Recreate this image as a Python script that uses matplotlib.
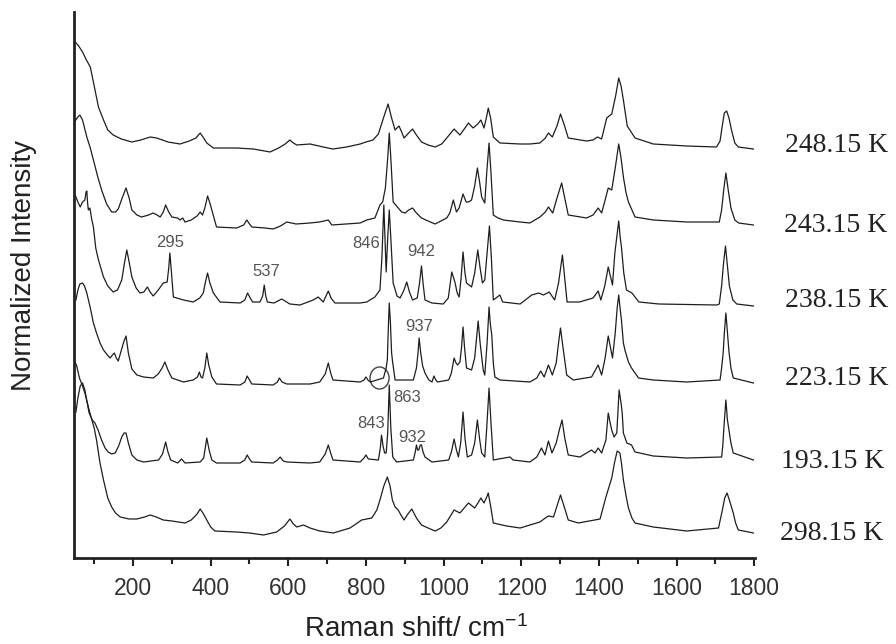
import matplotlib
matplotlib.use("Agg")
import matplotlib.pyplot as plt
from matplotlib.patches import Ellipse
from matplotlib.ticker import MultipleLocator, FixedLocator

plt.rcParams["font.family"] = ["Liberation Sans", "DejaVu Sans"]
plt.rcParams["mathtext.fontset"] = "custom"
plt.rcParams["mathtext.rm"] = "Liberation Sans"
plt.rcParams["mathtext.it"] = "Liberation Sans:italic"

# Raman spectra: (wavenumber / cm-1, normalized intensity above the trace's own baseline)
spec_248 = [(51,107),(60,103),(70,97),(80,89),(90,82),(100,63),(111,42),(124,29),(135,19),(149,14),
            (170,10),(197,7),(220,9),(244,12),(261,11),(290,7),(321,5),(345,8),(362,11),(373,16),
            (382,11),(390,6),(407,1),(467,1),(510,0),(553,-3),(575,1),(592,5),(604,9),(613,6),
            (622,4),(656,5),(690,2),(715,0),(750,2),(785,5),(800,7),(818,9),(832,15),(845,31),
            (857,45),(866,31),(875,19),(885,23),(892,17),(898,11),(910,16),(920,20),(930,14),(943,7),
            (960,4),(978,2),(995,5),(1008,11),(1027,20),(1042,14),(1055,21),(1064,26),(1076,21),(1088,25),
            (1096,29),(1104,21),(1110,31),(1115,41),(1121,31),(1128,12),(1145,6),(1197,5),(1222,5),(1248,6),
            (1262,11),(1270,16),(1280,12),(1292,23),(1301,35),(1310,25),(1321,11),(1368,8),(1385,9),(1396,12),
            (1407,10),(1420,31),(1433,35),(1443,53),(1451,71),(1457,63),(1463,49),(1473,23),(1483,17),(1493,11),
            (1540,5),(1626,3),(1703,2),(1712,8),(1718,24),(1723,36),(1729,38),(1735,31),(1742,18),(1750,6),
            (1759,2),(1798,0)]

spec_243 = [(51,104),(58,108),(63,110),(70,105),(81,88),(90,77),(100,62),(110,47),(120,34),(132,21),
            (145,13),(155,13),(162,16),(172,27),(182,37),(190,27),(197,15),(210,10),(222,8),(240,10),
            (252,12),(262,10),(270,8),(278,13),(284,20),(292,13),(300,8),(315,7),(321,5),(328,7),
            (334,3),(350,5),(365,9),(373,13),(379,10),(385,17),(392,29),(398,22),(403,15),(410,5),
            (415,-2),(467,-3),(485,0),(493,5),(500,1),(506,-2),(540,-3),(561,-4),(580,-1),(596,3),
            (620,1),(656,2),(680,3),(703,5),(712,0),(750,1),(785,2),(802,5),(823,7),(836,20),
            (843,23),(850,37),(856,67),(860,92),(864,67),(870,23),(883,17),(892,13),(901,12),(910,15),
            (920,17),(930,12),(943,7),(960,4),(978,1),(1008,7),(1016,12),(1025,25),(1033,13),(1040,17),
            (1050,31),(1058,23),(1064,23),(1072,25),(1080,39),(1087,57),(1093,42),(1098,28),(1106,22),(1111,52),
            (1117,82),(1122,52),(1128,10),(1140,7),(1154,5),(1197,3),(1222,2),(1248,8),(1262,13),(1270,18),
            (1281,12),(1292,27),(1304,42),(1312,27),(1321,10),(1368,7),(1385,10),(1398,17),(1407,12),(1416,25),
            (1424,37),(1433,35),(1442,57),(1451,81),(1457,67),(1463,48),(1470,32),(1476,23),(1485,15),(1493,8),
            (1540,5),(1626,3),(1710,3),(1716,15),(1722,37),(1727,52),(1733,35),(1740,17),(1750,5),(1760,2),
            (1798,0)]

spec_238 = [(51,111),(58,104),(64,99),(70,104),(76,106),(79,114),(81,115),(83,103),(85,96),(89,98),
            (93,88),(98,79),(104,58),(111,46),(124,29),(135,20),(149,14),(160,16),(171,26),(178,43),
            (184,56),(190,44),(197,29),(208,18),(218,13),(228,14),(237,19),(244,14),(252,10),(265,16),
            (278,23),(288,24),(292,38),(295,53),(298,38),(304,9),(330,6),(355,4),(372,8),(381,13),
            (386,23),(392,33),(398,23),(407,13),(424,4),(476,3),(488,6),(495,13),(502,8),(508,4),
            (527,4),(534,10),(538,21),(542,10),(546,4),(563,3),(583,7),(604,2),(630,1),(664,6),
            (677,9),(690,4),(697,10),(703,15),(710,8),(720,3),(785,3),(802,4),(823,9),(836,16),
            (841,48),(846,101),(849,68),(852,34),(856,68),(860,96),(864,68),(870,23),(880,10),(888,8),
            (898,16),(905,24),(912,14),(920,6),(932,8),(938,23),(943,40),(947,23),(952,6),(970,3),
            (999,2),(1012,8),(1021,34),(1029,24),(1035,13),(1040,9),(1045,28),(1050,54),(1055,33),(1059,23),
            (1072,19),(1080,33),(1088,56),(1094,38),(1100,23),(1106,26),(1112,53),(1118,80),(1123,48),(1128,6),
            (1145,11),(1152,4),(1197,2),(1227,11),(1245,13),(1257,11),(1272,14),(1286,6),(1296,23),(1306,51),
            (1312,28),(1318,4),(1350,4),(1385,8),(1398,15),(1405,6),(1415,20),(1424,39),(1435,21),(1441,53),
            (1451,85),(1455,68),(1458,59),(1464,33),(1471,16),(1485,13),(1503,4),(1555,2),(1703,1),(1710,2),
            (1716,20),(1721,43),(1726,60),(1731,40),(1736,20),(1745,6),(1755,2),(1798,0)]

spec_223 = [(53,83),(58,93),(63,99),(70,100),(75,97),(81,90),(90,75),(98,60),(106,50),(115,40),
            (124,33),(134,28),(141,25),(147,28),(152,30),(157,25),(162,22),(170,33),(176,41),(182,47),
            (188,30),(197,14),(210,8),(227,6),(252,5),(265,9),(275,15),(282,21),(290,13),(300,5),
            (330,1),(355,3),(366,6),(371,11),(375,6),(379,5),(385,15),(390,30),(395,18),(403,6),
            (415,-1),(476,-2),(488,1),(494,7),(500,3),(506,-1),(561,-2),(572,1),(577,5),(584,1),
            (596,-1),(656,-1),(681,1),(695,9),(703,20),(709,10),(715,3),(785,1),(795,3),(800,6),
            (805,3),(811,1),(845,5),(852,15),(855,23),(858,60),(860,80),(863,60),(866,30),(869,20),
            (875,3),(922,3),(930,15),(934,30),(937,45),(941,30),(946,17),(952,10),(962,3),(970,1),
            (975,7),(980,3),(984,1),(1013,3),(1020,10),(1027,25),(1032,20),(1036,18),(1042,21),(1046,35),
            (1050,56),(1054,35),(1059,15),(1072,13),(1080,25),(1085,45),(1089,62),(1094,40),(1102,13),(1106,8),
            (1112,40),(1117,76),(1120,60),(1124,48),(1128,20),(1132,6),(1145,3),(1222,1),(1240,5),(1250,12),
            (1259,6),(1270,18),(1280,8),(1290,20),(1296,40),(1301,55),(1307,37),(1317,8),(1334,3),(1381,6),
            (1398,18),(1407,8),(1416,25),(1424,47),(1430,35),(1435,25),(1442,50),(1447,75),(1451,88),(1455,73),
            (1458,63),(1463,40),(1467,33),(1476,21),(1484,15),(1502,5),(1540,3),(1626,1),(1712,3),(1716,15),
            (1720,30),(1723,50),(1727,70),(1731,50),(1735,31),(1740,15),(1746,5),(1798,0)]

spec_193 = [(53,48),(58,62),(64,74),(70,77),(76,70),(82,57),(87,47),(95,40),(102,37),(110,30),
            (119,20),(128,12),(136,8),(145,6),(154,7),(163,14),(171,23),(177,27),(182,27),(188,17),
            (197,5),(210,0),(227,-2),(266,0),(276,6),(284,18),(290,8),(297,0),(315,-3),(325,1),
            (334,-3),(373,-2),(382,2),(390,22),(396,10),(403,0),(415,-3),(476,-3),(488,0),(494,5),
            (500,1),(506,-2),(561,-3),(572,0),(579,3),(587,-1),(596,-2),(656,-3),(681,-2),(695,6),
            (703,15),(709,7),(715,0),(785,-2),(795,2),(800,5),(806,1),(832,0),(837,12),(840,25),
            (844,14),(848,7),(852,7),(856,27),(860,75),(864,32),(869,3),(879,-2),(922,0),(927,8),
            (930,15),(933,10),(936,10),(940,15),(943,15),(947,8),(952,3),(970,-2),(1013,0),(1020,8),
            (1027,21),(1033,10),(1038,3),(1044,17),(1050,48),(1055,22),(1061,3),(1072,5),(1080,17),(1087,40),
            (1093,20),(1098,7),(1106,3),(1111,32),(1117,72),(1122,37),(1128,0),(1171,3),(1179,0),(1222,-2),
            (1240,3),(1252,12),(1261,5),(1270,19),(1279,7),(1290,17),(1298,30),(1305,40),(1312,22),(1321,5),
            (1351,3),(1381,10),(1390,7),(1398,12),(1407,7),(1418,20),(1424,47),(1429,37),(1433,30),(1439,23),
            (1446,27),(1452,70),(1457,57),(1460,47),(1463,27),(1472,17),(1484,15),(1493,8),(1540,4),(1626,2),
            (1716,3),(1719,14),(1722,33),(1727,60),(1731,40),(1735,30),(1740,17),(1746,7),(1798,0)]

spec_298 = [(51,171),(55,167),(62,155),(70,147),(76,140),(89,120),(100,105),(106,93),(115,70),(124,53),
            (135,35),(145,26),(155,20),(167,16),(190,14),(210,14),(230,16),(244,18),(260,16),(278,13),
            (300,12),(334,10),(350,13),(365,19),(373,24),(380,20),(390,13),(400,6),(411,2),(467,1),
            (500,0),(536,-2),(570,1),(590,7),(604,14),(613,9),(622,6),(639,8),(656,5),(681,2),
            (716,0),(759,5),(789,13),(815,15),(828,23),(836,33),(846,47),(855,56),(862,47),(868,33),
            (875,26),(883,23),(890,18),(898,13),(908,19),(918,24),(930,15),(943,8),(960,5),(978,2),
            (993,5),(1008,11),(1027,23),(1042,20),(1053,25),(1064,30),(1080,25),(1090,31),(1096,35),(1104,30),
            (1110,35),(1115,40),(1121,27),(1128,10),(1162,7),(1197,5),(1248,11),(1262,15),(1270,17),(1283,16),
            (1292,27),(1301,38),(1310,27),(1321,13),(1347,10),(1403,14),(1418,36),(1433,55),(1440,70),(1447,82),
            (1454,80),(1458,70),(1463,53),(1470,37),(1476,25),(1485,15),(1493,10),(1540,6),(1626,2),(1708,5),
            (1718,23),(1724,35),(1730,40),(1736,33),(1746,20),(1752,10),(1759,3),(1798,0)]

temperatures = ["248.15 K", "243.15 K", "238.15 K", "223.15 K", "193.15 K", "298.15 K"]
spectra = [spec_248, spec_243, spec_238, spec_223, spec_193, spec_298]

# vertical stacking of the traces and placement of the temperature tags
offsets = [409, 333, 252, 175, 98, 25]
tag_x = [1879, 1877, 1879, 1880, 1869, 1866]
tag_y = [406, 326, 251, 173, 90, 18]

# peak annotations: text, x, y (baseline)
peak_labels = ["295", "537", "846", "942", "937", "863", "843", "932"]
peak_label_xy = [(295, 311), (544, 282), (800, 310), (943, 302),
                 (938, 227), (905, 156), (814, 130), (919, 116)]

x_ticks = [200, 400, 600, 800, 1000, 1200, 1400, 1600, 1800]

fig = plt.figure(figsize=(8.96, 6.44), dpi=100)
ax = fig.add_axes([74 / 896, 86 / 644, 681 / 896, 546 / 644])

line_color = "#1e1e1e"
for spec, off in zip(spectra, offsets):
    xs = [p[0] for p in spec]
    ys = [p[1] + off for p in spec]
    ax.plot(xs, ys, color=line_color, lw=0.9, solid_joinstyle="round")

for label, tx, ty in zip(temperatures, tag_x, tag_y):
    ax.text(tx, ty, label, ha="left", va="baseline", fontsize=20,
            family=["Liberation Serif", "DejaVu Serif"], color="#222222", clip_on=False)

for label, (px, py) in zip(peak_labels, peak_label_xy):
    ax.text(px, py, label, ha="center", va="baseline", fontsize=12, color="#555555")

ax.add_patch(Ellipse((835, 180), 49, 22, fill=False, edgecolor="#444444", lw=1.0))

ax.set_xlim(48, 1802)
ax.set_ylim(0, 546)
ax.spines["top"].set_visible(False)
ax.spines["right"].set_visible(False)
for side in ("left", "bottom"):
    ax.spines[side].set_linewidth(2.0)
    ax.spines[side].set_color("#222222")

ax.xaxis.set_major_locator(FixedLocator(x_ticks))
ax.xaxis.set_minor_locator(FixedLocator([100, 300, 500, 700, 900, 1100, 1300, 1500, 1700]))
ax.tick_params(axis="x", which="major", direction="out", length=6, width=1.5,
               color="#222222", labelsize=16.5, labelcolor="#333333", pad=8)
ax.tick_params(axis="x", which="minor", direction="out", length=4, width=1.5, color="#222222")
ax.set_yticks([])

ax.set_xlabel(r"Raman shift/ cm$^{\mathrm{-1}}$", fontsize=20, color="#222222", va="center")
ax.xaxis.set_label_coords(0.502, -0.13)
ax.set_ylabel("Normalized Intensity", fontsize=20, color="#222222", va="center")
ax.yaxis.set_label_coords(-0.073, 0.535)

fig.savefig("out.png", dpi=100)
